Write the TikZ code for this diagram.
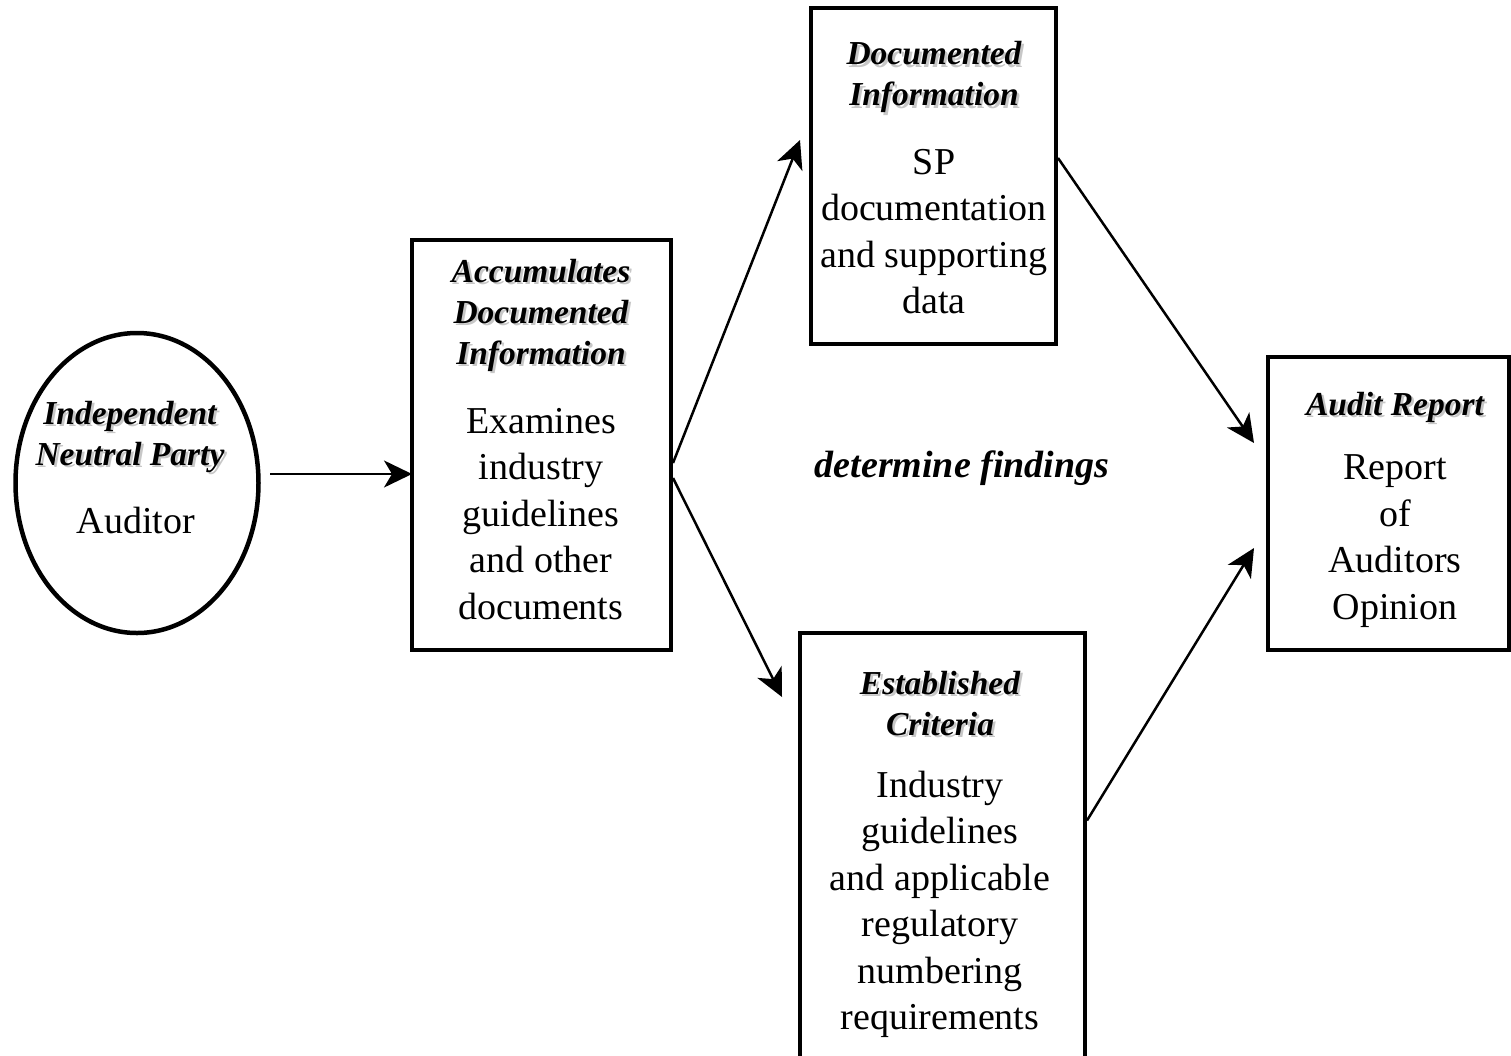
\documentclass[tikz,border=0pt]{standalone}
\usepackage{fontspec}
\setmainfont{Liberation Serif}
\usetikzlibrary{arrows.meta,shapes.geometric,calc}
\newcommand\bodyfont{\fontsize{38}{46.5}\selectfont}
\newcommand\headfont{\fontsize{33.5}{41}\selectfont\bfseries\itshape}
\newcommand\hdtext[3]{%
  \node[headsh] at ($(#1)+(2.5,2.5)$) {#3};
  \node[headtx] (#2) at (#1) {#3};}
\begin{document}
\begin{tikzpicture}[x=1pt,y=-1pt,
  box/.style={draw,line width=4pt,rectangle,inner sep=0pt},
  headtx/.style={align=center,inner sep=0pt,font=\headfont},
  headsh/.style={align=center,inner sep=0pt,font=\headfont,text=black!22},
  bodytx/.style={align=center,inner sep=0pt,font=\bodyfont},
  arr/.style={line width=2.5pt,-{Stealth[length=28pt,width=27pt,inset=8pt]}}]
\useasboundingbox (0,0) rectangle (1511,1055);
\clip (0,0) rectangle (1511,1055);
% shapes
\node[draw,line width=4.5pt,ellipse,minimum width=243pt,minimum height=300pt,inner sep=0pt] (el) at (137,483) {};
\node[box,minimum width=259pt,minimum height=410pt] (b1) at (541.5,445) {};
\node[box,minimum width=245pt,minimum height=336pt] (b2) at (933.5,176) {};
\node[box,minimum width=285pt,minimum height=425pt] (b3) at (942.5,845.5) {};
\node[box,minimum width=241pt,minimum height=293pt] (b4) at (1388.5,503.5) {};
% texts
\hdtext{130,436.5}{elh}{Independent\\Neutral Party}
\node[bodytx] (elb) at (136,520) {Auditor};
\hdtext{541,315}{b1h}{Accumulates\\Documented\\Information}
\node[bodytx] (b1b) at (541,514) {Examines\\industry\\guidelines\\and other\\documents};
\hdtext{934,77}{b2h}{Documented\\Information}
\node[bodytx] (b2b) at (934,231.5) {SP\\documentation\\and supporting\\data};
\hdtext{940,703.5}{b3h}{Established\\Criteria}
\node[bodytx] (b3b) at (940,904.5) {Industry\\guidelines\\and applicable\\regulatory\\numbering\\requirements};
\hdtext{1395,407}{b4h}{Audit Report}
\node[bodytx] (b4b) at (1395,541) {Report\\of\\Auditors\\Opinion};
\node[inner sep=0pt,font={\fontsize{38}{46.5}\selectfont\bfseries\itshape}] (df) at (962,468) {determine findings};
% connector end points
\coordinate (s0) at (270,474);
\coordinate (t0) at (412,474);
\coordinate (t1) at (800,140);
\coordinate (t2) at (782,697);
\coordinate (t3) at (1254,443);
\coordinate (t4) at (1254,548);
% connectors
\draw[arr] (s0) -- (t0);
\draw[arr] ([yshift=-18pt]b1.east) -- (t1);
\draw[arr] ([yshift=-33pt]b1.east) -- (t2);
\draw[arr] ([yshift=18pt]b2.east) -- (t3);
\draw[arr] ([yshift=25pt]b3.east) -- (t4);
\end{tikzpicture}
\end{document}
